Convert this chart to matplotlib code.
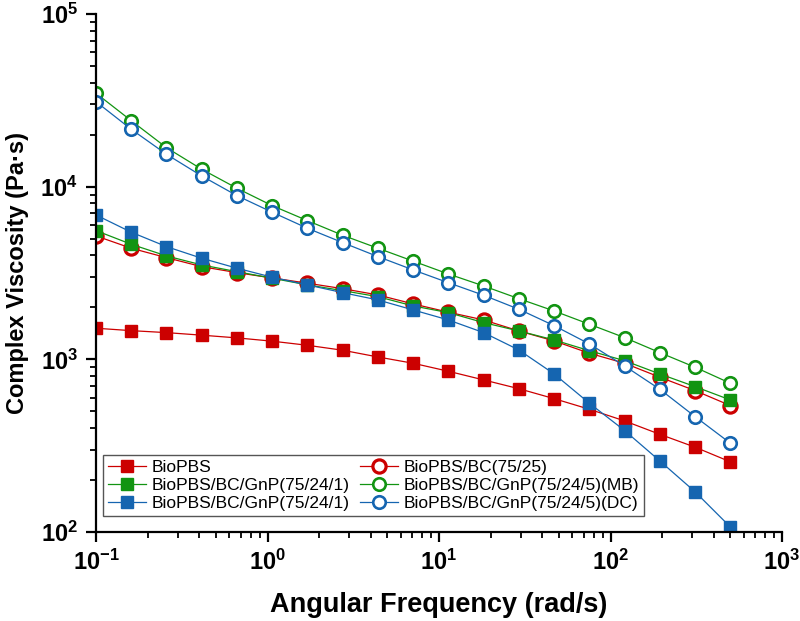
import matplotlib
matplotlib.use("Agg")
import matplotlib.pyplot as plt
from matplotlib.ticker import FuncFormatter, LogLocator
import numpy as np

freq = [0.1, 0.1605, 0.2576, 0.4135, 0.6636, 1.065, 1.709, 2.743, 4.403, 7.067,
        11.34, 18.2, 29.22, 46.9, 75.27, 120.8, 193.9, 311.2, 499.5]

biopbs = [1514, 1466, 1428, 1380, 1331, 1274, 1206, 1129, 1032, 949,
          853, 760, 676, 592, 514, 440, 368, 310, 255]
bc_7525 = [5185, 4399, 3880, 3441, 3177, 2960, 2760, 2566, 2360, 2094,
           1875, 1691, 1460, 1278, 1085, 949, 788, 659, 540]
gnp1_green = [5565, 4638, 3970, 3521, 3218, 2949, 2698, 2500, 2306, 2038,
              1864, 1632, 1460, 1295, 1122, 982, 823, 695, 582]
gnp1_blue = [6855, 5447, 4495, 3849, 3371, 2988, 2698, 2433, 2208, 1932,
             1691, 1428, 1133, 823, 557, 387, 258, 171, 107]
gnp5_mb = [34750, 24100, 16820, 12610, 9790, 7762, 6357, 5231, 4399, 3705,
           3121, 2661, 2245, 1906, 1597, 1336, 1094, 900, 727]
gnp5_dc = [31050, 21490, 15400, 11530, 8870, 7110, 5742, 4742, 3935, 3295,
           2778, 2350, 1950, 1567, 1228, 916, 671, 466, 327]

labels = ["BioPBS", "BioPBS/BC/GnP(75/24/1)", "BioPBS/BC/GnP(75/24/1)",
          "BioPBS/BC(75/25)", "BioPBS/BC/GnP(75/24/5)(MB)", "BioPBS/BC/GnP(75/24/5)(DC)"]

RED = "#cc0000"
GREEN = "#129412"
BLUE = "#1565b0"

plt.rcParams['font.family'] = ['Liberation Sans', 'DejaVu Sans']
plt.rcParams['mathtext.fontset'] = 'custom'
plt.rcParams['mathtext.bf'] = 'Liberation Sans:bold'
plt.rcParams['mathtext.rm'] = 'Liberation Sans'

fig = plt.figure(figsize=(8, 6.21), dpi=100)
ax = fig.add_axes([0.12, 0.1433, 0.8575, 0.8342])

ms = 9
lw = 0.9
h_biopbs, = ax.plot(freq, biopbs, '-s', color=RED, ms=ms, lw=lw, mec=RED, mfc=RED)
h_bc, = ax.plot(freq, bc_7525, '-o', color=RED, ms=ms + 0.5, lw=lw, mec=RED, mfc='white', mew=2.3)
h_g1, = ax.plot(freq, gnp1_green, '-s', color=GREEN, ms=ms, lw=lw, mec=GREEN, mfc=GREEN)
h_b1, = ax.plot(freq, gnp1_blue, '-s', color=BLUE, ms=ms, lw=lw, mec=BLUE, mfc=BLUE)
h_mb, = ax.plot(freq, gnp5_mb, '-o', color=GREEN, ms=ms, lw=lw, mec=GREEN, mfc='white', mew=1.9)
h_dc, = ax.plot(freq, gnp5_dc, '-o', color=BLUE, ms=ms, lw=lw, mec=BLUE, mfc='white', mew=1.9)

ax.set_xscale('log')
ax.set_yscale('log')
ax.set_xlim(0.1, 1000)
ax.set_ylim(100, 1e5)

for s in ['top', 'right']:
    ax.spines[s].set_visible(False)
for s in ['left', 'bottom']:
    ax.spines[s].set_linewidth(1.6)

def fmt(v, pos):
    e = int(round(np.log10(v)))
    return r'$\mathbf{10^{%d}}$' % e

ax.xaxis.set_major_locator(LogLocator(base=10, numticks=10))
ax.yaxis.set_major_locator(LogLocator(base=10, numticks=10))
ax.xaxis.set_major_formatter(FuncFormatter(fmt))
ax.yaxis.set_major_formatter(FuncFormatter(fmt))
ax.tick_params(which='major', direction='out', length=7, width=1.6, labelsize=17, pad=6)
ax.tick_params(which='minor', direction='out', length=4, width=1.3)

ax.set_xlabel('Angular Frequency (rad/s)', fontsize=19.5, fontweight='bold', labelpad=12)
ax.set_ylabel('Complex Viscosity (Pa\u00b7s)', fontsize=17, fontweight='bold', labelpad=8)

handles = [h_biopbs, h_g1, h_b1, h_bc, h_mb, h_dc]
leg = ax.legend(handles, labels, ncol=2, loc='lower left', bbox_to_anchor=(0.005, 0.024),
                fontsize=12.5, frameon=True, fancybox=False, framealpha=1,
                edgecolor='#555555', borderpad=0.3, labelspacing=0.15,
                handlelength=2.2, handletextpad=0.3, columnspacing=0.6,
                borderaxespad=0.2)
leg.get_frame().set_linewidth(1.0)

fig.savefig('out.png', dpi=100)
